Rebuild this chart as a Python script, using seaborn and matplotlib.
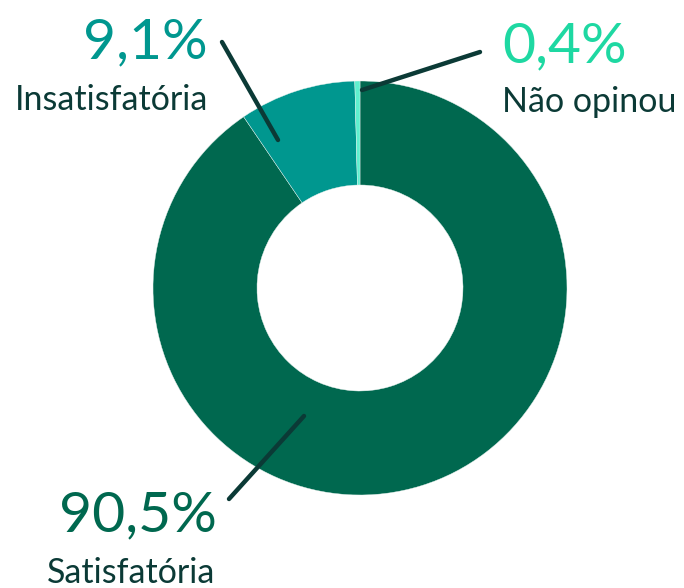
import matplotlib
matplotlib.use("Agg")
import matplotlib.pyplot as plt
import seaborn as sns

categories = ["Satisfatória", "Insatisfatória", "Não opinou"]
values = [90.5, 9.1, 0.4]
pct_labels = ["90,5%", "9,1%", "0,4%"]

slice_colors = ["#00684F", "#00978F", "#5EF0CF"]
pct_colors = ["#00684F", "#00978F", "#1ED8A2"]
text_color = "#0B3A36"

sns.set_theme(style="white")
plt.rcParams["font.family"] = ["Lato", "DejaVu Sans"]

W, H = 684, 588
fig = plt.figure(figsize=(W / 100, H / 100), dpi=100)
ax = fig.add_axes([0, 0, 1, 1])

cx, cy = 360, H - 288
R = 207
ax.pie(values, colors=slice_colors, startangle=90, counterclock=False,
       center=(cx, cy), radius=R, frame=True,
       wedgeprops=dict(width=104, edgecolor="#E8F2EF", linewidth=0.3))
ax.set_xlim(0, W)
ax.set_ylim(0, H)
ax.set_aspect("equal")
ax.axis("off")

def Y(y):
    return H - y

# leader lines
lines = [
    ((304, 416), (229, 499)),
    ((278, 140), (222, 42)),
    ((362, 90), (480, 52)),
]
for (x0, y0), (x1, y1) in lines:
    ax.plot([x0, x1], [Y(y0), Y(y1)], color=text_color, lw=3.2,
            solid_capstyle="round")

# labels: (pct x, pct baseline, name x, name baseline, ha)
pos = [
    (217, 531, 215, 583, "right"),
    (208, 58, 208, 110, "right"),
    (502, 62, 502, 112, "left"),
]
for i, (px, py, nx, ny, ha) in enumerate(pos):
    ax.text(px, Y(py), pct_labels[i], color=pct_colors[i], fontsize=41,
            ha=ha, va="baseline")
    ax.text(nx, Y(ny), categories[i], color=text_color, fontsize=24.5,
            ha=ha, va="baseline")

fig.savefig("out.png", dpi=100)
